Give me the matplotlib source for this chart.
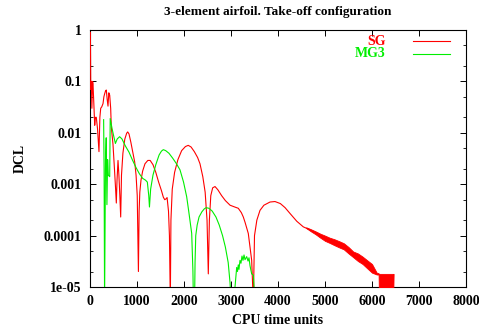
import matplotlib
matplotlib.use('Agg')
import matplotlib.pyplot as plt
from matplotlib.ticker import LogLocator, NullFormatter

plt.rcParams['font.family'] = ['Liberation Serif', 'DejaVu Serif']
plt.rcParams['font.weight'] = 'bold'

# SG convergence history
sg_time = [8, 12, 16, 20, 28, 40, 55, 64, 80, 100, 115, 134, 160, 191, 210, 228, 250, 277, 295, 313,
           330, 347, 365, 383, 400, 419, 440, 453, 470, 489, 520, 545, 560, 575, 596, 615, 635, 653,
           670, 700, 740, 780, 802, 830, 870, 910, 951, 980, 1005, 1030, 1045, 1060, 1085, 1120,
           1170, 1230, 1280, 1340, 1400, 1460, 1520, 1560, 1590, 1620, 1640, 1670, 1690, 1709,
           1722, 1750, 1800, 1870, 1950, 2030, 2090, 2150, 2220, 2290, 2340, 2400, 2450, 2490,
           2517, 2540, 2570, 2610, 2660, 2720, 2800, 2880, 2980, 3080, 3155, 3220, 3262, 3300,
           3368, 3440, 3475, 3500, 3550, 3617, 3700, 3830, 3936, 4050, 4150, 4255, 4400, 4538,
           4700, 4800, 4900, 5000, 5100, 5200, 5300, 5400, 5500, 5600, 5700, 5800, 5900, 6000, 6100]
sg_dcl = [0.9, 0.3, 0.07, 0.1, 0.1, 0.03, 0.1, 0.09, 0.04, 0.014, 0.02, 0.02, 0.012, 0.0043, 0.02,
          0.03, 0.032, 0.037, 0.05, 0.058, 0.065, 0.068, 0.045, 0.033, 0.06, 0.054, 0.03, 0.013,
          0.009, 0.006, 0.002, 0.0008, 0.00043, 0.0012, 0.0029, 0.0015, 0.0006, 0.00023, 0.0015,
          0.004, 0.0075, 0.0098, 0.0104, 0.0095, 0.0065, 0.0042, 0.0027, 0.0015, 0.0006, 2e-5,
          0.0003, 0.0007, 0.0012, 0.0018, 0.0025, 0.0029, 0.0029, 0.0024, 0.0017, 0.0011, 0.00075,
          0.00056, 0.0005, 0.00052, 0.00055, 0.0003, 0.0001, 5e-6, 0.0002, 0.0008, 0.0017, 0.003,
          0.0045, 0.0054, 0.0057, 0.0053, 0.0043, 0.0033, 0.0025, 0.0014, 0.0007, 0.0002, 1.8e-5,
          0.0002, 0.0006, 0.00085, 0.0009, 0.00078, 0.0006, 0.00048, 0.00039, 0.00036, 0.00034,
          0.00028, 0.00023, 0.00018, 0.00011, 3.3e-5, 5e-6, 0.0001, 0.0002, 0.00031, 0.00039,
          0.00045, 0.00046, 0.00042, 0.00035, 0.00027, 0.00019, 0.000148, 1.27e-4, 1.13e-4,
          1.0e-4, 8.9e-5, 8.1e-5, 7.4e-5, 6.8e-5, 6.2e-5, 5.2e-5, 4.3e-5, 3.8e-5, 3.3e-5, 2.8e-5,
          2.3e-5, 1.8e-5]

# noisy tail of SG: lower / upper envelope
sg_noise_time = [4600, 4700, 4800, 4900, 5000, 5100, 5200, 5300, 5400, 5500, 5600, 5700, 5800,
                 5900, 6000, 6100, 6140, 6150, 6450, 6460]
sg_noise_lo = [1.4e-4, 1.21e-4, 1.06e-4, 0.91e-4, 7.9e-5, 7.2e-5, 6.5e-5, 5.9e-5, 5.4e-5, 4.5e-5,
               3.8e-5, 3.2e-5, 2.8e-5, 2.3e-5, 1.9e-5, 1.75e-5, 1.75e-5, 5e-6, 5e-6, 1.8e-5]
sg_noise_hi = [1.45e-4, 1.33e-4, 1.21e-4, 1.09e-4, 1.0e-4, 9.1e-5, 8.5e-5, 7.8e-5, 7.1e-5, 6.0e-5,
               4.9e-5, 4.5e-5, 3.9e-5, 3.3e-5, 2.8e-5, 1.9e-5, 1.85e-5, 1.8e-5, 1.8e-5, 1.8e-5]

# MG3 convergence history
mg_time = [290, 300, 310, 330, 345, 360, 375, 390, 419, 430, 470, 500, 540, 580, 630, 680, 750,
           830, 900, 980, 1050, 1120, 1180, 1220, 1250, 1265, 1290, 1340, 1400, 1470, 1520, 1560,
           1610, 1680, 1760, 1840, 1915, 1990, 2057, 2100, 2164, 2190, 2200, 2225, 2235, 2250,
           2280, 2320, 2380, 2430, 2470, 2530, 2600, 2680, 2750, 2820, 2880, 2940, 2980, 3000,
           3050, 3085, 3121, 3138, 3155, 3170, 3191, 3212, 3234, 3255, 3277, 3298, 3334, 3362,
           3383, 3404, 3440, 3475, 3489, 3511]
mg_dcl = [0.018, 0.002, 5e-6, 0.003, 0.008, 0.0004, 0.003, 0.0015, 0.0014, 0.019, 0.012, 0.009,
          0.0062, 0.0076, 0.0084, 0.0076, 0.0056, 0.0042, 0.003, 0.0021, 0.0016, 0.0013, 0.0012,
          0.0011, 0.0006, 0.00036, 0.0008, 0.0015, 0.0024, 0.0037, 0.0044, 0.0047, 0.0045, 0.004,
          0.0032, 0.0025, 0.0019, 0.0011, 0.00057, 0.0003, 0.00011, 2e-5, 5e-6, 5e-6, 3e-5,
          0.0001, 0.00016, 0.00023, 0.00029, 0.00033, 0.00035, 0.00034, 0.0003, 0.00023, 0.00016,
          0.0001, 6e-5, 3e-5, 1.2e-5, 5e-6, 5e-6, 1e-5, 2.4e-5, 2.0e-5, 2.7e-5, 2.2e-5, 3.3e-5,
          2.9e-5, 4.0e-5, 3.3e-5, 4.2e-5, 3.4e-5, 3.9e-5, 3.2e-5, 3.7e-5, 2.6e-5, 1.8e-5, 1.7e-5,
          1.1e-5, 5e-6]

x_ticks = [0, 1000, 2000, 3000, 4000, 5000, 6000, 7000, 8000]
y_ticks = [1e-5, 1e-4, 1e-3, 1e-2, 1e-1, 1]
y_labels = ['1e-05', '0.0001', '0.001', '0.01', '0.1', '1']

red = '#ff0000'
green = '#00ee00'

fig = plt.figure(figsize=(4.79, 3.28), dpi=100)
ax = fig.add_axes([90 / 479, 41 / 328, 376 / 479, 257 / 328])

ax.plot(sg_time, sg_dcl, color=red, lw=0.8, zorder=3)
ax.fill_between(sg_noise_time, sg_noise_lo, sg_noise_hi, color=red, lw=0.6, edgecolor=red, zorder=3)
ax.plot(mg_time, mg_dcl, color=green, lw=0.8, zorder=3)

ax.set_yscale('log')
ax.set_xlim(0, 8000)
ax.set_ylim(1e-5, 1)
ax.set_xticks(x_ticks)
ax.set_xticklabels([str(t) for t in x_ticks])
ax.set_yticks(y_ticks)
ax.set_yticklabels(y_labels)
ax.yaxis.set_minor_locator(LogLocator(base=10, subs=(2.0, 5.0)))
ax.yaxis.set_minor_formatter(NullFormatter())

ax.tick_params(which='major', direction='in', length=4, width=0.7, top=True, right=True,
               labelsize=10, pad=6)
ax.tick_params(which='minor', direction='in', length=2, width=0.6, top=True, right=True)
for s in ax.spines.values():
    s.set_linewidth(0.8)

ax.set_title('3-element airfoil. Take-off configuration', fontsize=9.5, fontweight='bold', pad=11)
ax.set_xlabel('CPU time units', fontsize=10, fontweight='bold', labelpad=4)
ax.set_ylabel('DCL', fontsize=10, fontweight='bold', labelpad=12)

# gnuplot style key: right aligned text then line sample
ax.text(0.787, 0.957, 'SG', color=red, transform=ax.transAxes, ha='right', va='center',
        fontsize=10, fontweight='bold')
ax.plot([0.859, 0.957], [0.957, 0.957], color=red, lw=0.8, transform=ax.transAxes)
ax.text(0.787, 0.908, 'MG3', color=green, transform=ax.transAxes, ha='right', va='center',
        fontsize=10, fontweight='bold')
ax.plot([0.859, 0.957], [0.908, 0.908], color=green, lw=0.8, transform=ax.transAxes)

fig.savefig('out.png', dpi=100)
